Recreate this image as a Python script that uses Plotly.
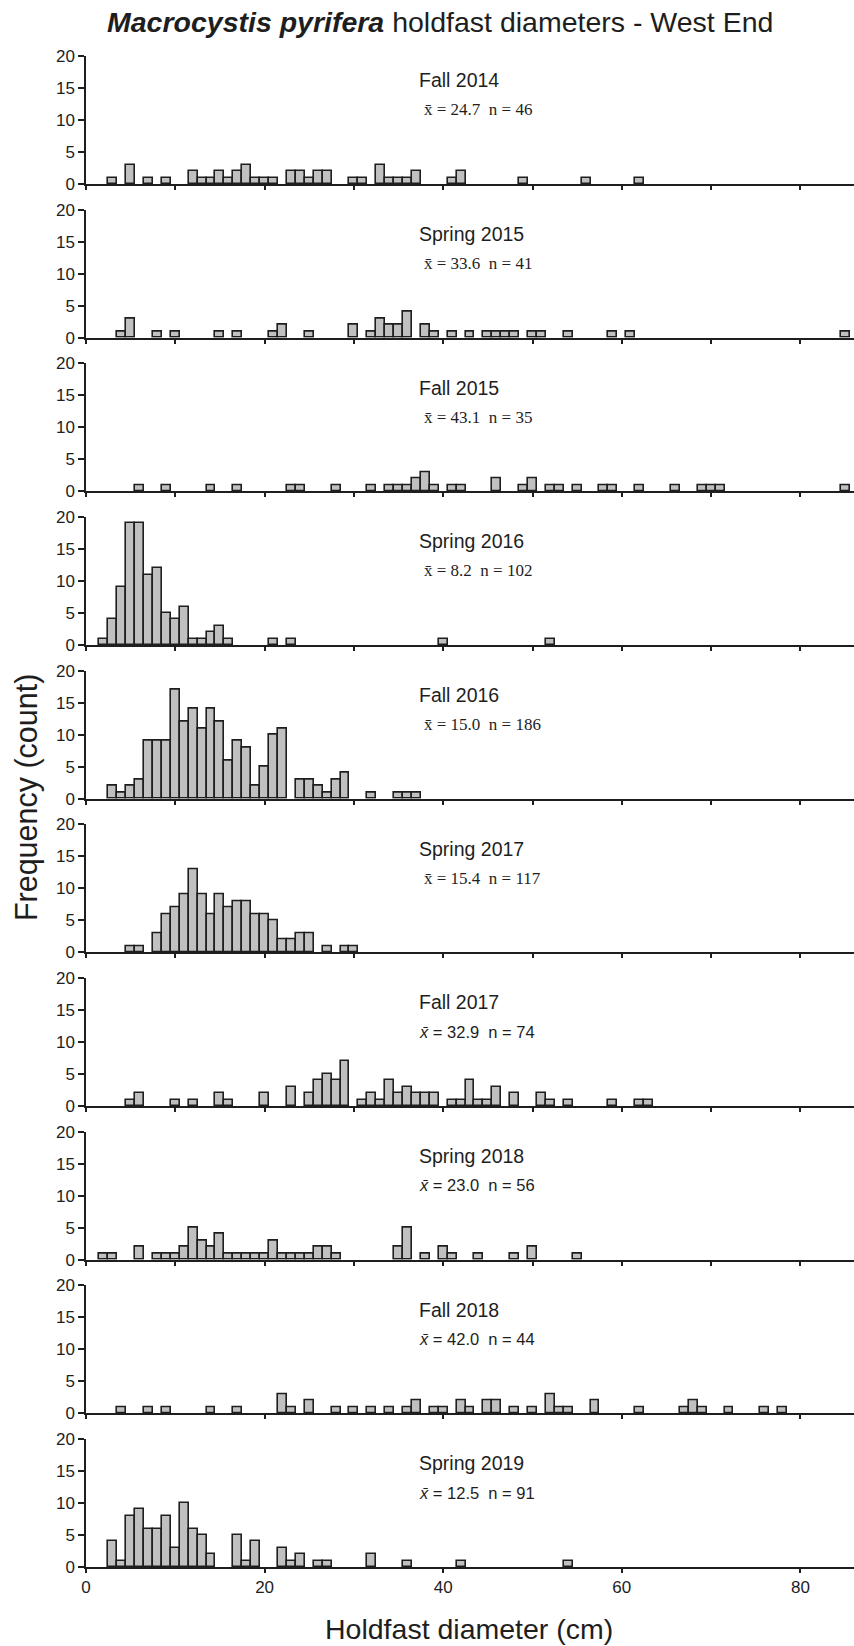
import plotly.graph_objects as go

# Holdfast diameter histograms (1 cm bins) for each survey season
season_names = ["Fall 2014", "Spring 2015", "Fall 2015", "Spring 2016", "Fall 2016",
                "Spring 2017", "Fall 2017", "Spring 2018", "Fall 2018", "Spring 2019"]
season_means = ["24.7", "33.6", "43.1", "8.2", "15.0", "15.4", "32.9", "23.0", "42.0", "12.5"]
season_n = [46, 41, 35, 102, 186, 117, 74, 56, 44, 91]

fall2014_bins = [3, 5, 7, 9, 12, 13, 14, 15, 16, 17, 18, 19, 20, 21, 23, 24, 25, 26, 27, 30,
                 31, 33, 34, 35, 36, 37, 41, 42, 49, 56, 62]
fall2014_counts = [1, 3, 1, 1, 2, 1, 1, 2, 1, 2, 3, 1, 1, 1, 2, 2, 1, 2, 2, 1,
                   1, 3, 1, 1, 1, 2, 1, 2, 1, 1, 1]

spring2015_bins = [4, 5, 8, 10, 15, 17, 21, 22, 25, 30, 32, 33, 34, 35, 36, 38, 39, 41, 43, 45,
                   46, 47, 48, 50, 51, 54, 59, 61, 85]
spring2015_counts = [1, 3, 1, 1, 1, 1, 1, 2, 1, 2, 1, 3, 2, 2, 4, 2, 1, 1, 1, 1,
                     1, 1, 1, 1, 1, 1, 1, 1, 1]

fall2015_bins = [6, 9, 14, 17, 23, 24, 28, 32, 34, 35, 36, 37, 38, 39, 41, 42, 46, 49, 50, 52,
                 53, 55, 58, 59, 62, 66, 69, 70, 71, 85]
fall2015_counts = [1, 1, 1, 1, 1, 1, 1, 1, 1, 1, 1, 2, 3, 1, 1, 1, 2, 1, 2, 1,
                   1, 1, 1, 1, 1, 1, 1, 1, 1, 1]

spring2016_bins = [2, 3, 4, 5, 6, 7, 8, 9, 10, 11, 12, 13, 14, 15, 16, 21, 23, 40, 52]
spring2016_counts = [1, 4, 9, 19, 19, 11, 12, 5, 4, 6, 1, 1, 2, 3, 1, 1, 1, 1, 1]

fall2016_bins = [3, 4, 5, 6, 7, 8, 9, 10, 11, 12, 13, 14, 15, 16, 17, 18, 19, 20, 21, 22,
                 24, 25, 26, 27, 28, 29, 32, 35, 36, 37]
fall2016_counts = [2, 1, 2, 3, 9, 9, 9, 17, 12, 14, 11, 14, 12, 6, 9, 8, 2, 5, 10, 11,
                   3, 3, 2, 1, 3, 4, 1, 1, 1, 1]

spring2017_bins = [5, 6, 8, 9, 10, 11, 12, 13, 14, 15, 16, 17, 18, 19, 20, 21, 22, 23, 24, 25,
                   27, 29, 30]
spring2017_counts = [1, 1, 3, 6, 7, 9, 13, 9, 6, 9, 7, 8, 8, 6, 6, 5, 2, 2, 3, 3,
                     1, 1, 1]

fall2017_bins = [5, 6, 10, 12, 15, 16, 20, 23, 25, 26, 27, 28, 29, 31, 32, 33, 34, 35, 36, 37,
                 38, 39, 41, 42, 43, 44, 45, 46, 48, 51, 52, 54, 59, 62, 63]
fall2017_counts = [1, 2, 1, 1, 2, 1, 2, 3, 2, 4, 5, 4, 7, 1, 2, 1, 4, 2, 3, 2,
                   2, 2, 1, 1, 4, 1, 1, 3, 2, 2, 1, 1, 1, 1, 1]

spring2018_bins = [2, 3, 6, 8, 9, 10, 11, 12, 13, 14, 15, 16, 17, 18, 19, 20, 21, 22, 23, 24,
                   25, 26, 27, 28, 35, 36, 38, 40, 41, 44, 48, 50, 55]
spring2018_counts = [1, 1, 2, 1, 1, 1, 2, 5, 3, 2, 4, 1, 1, 1, 1, 1, 3, 1, 1, 1,
                     1, 2, 2, 1, 2, 5, 1, 2, 1, 1, 1, 2, 1]

fall2018_bins = [4, 7, 9, 14, 17, 22, 23, 25, 28, 30, 32, 34, 36, 37, 39, 40, 42, 43, 45, 46,
                 48, 50, 52, 53, 54, 57, 62, 67, 68, 69, 72, 76, 78]
fall2018_counts = [1, 1, 1, 1, 1, 3, 1, 2, 1, 1, 1, 1, 1, 2, 1, 1, 2, 1, 2, 2,
                   1, 1, 3, 1, 1, 2, 1, 1, 2, 1, 1, 1, 1]

spring2019_bins = [3, 4, 5, 6, 7, 8, 9, 10, 11, 12, 13, 14, 17, 18, 19, 22, 23, 24, 26, 27,
                   32, 36, 42, 54]
spring2019_counts = [4, 1, 8, 9, 6, 6, 8, 3, 10, 6, 5, 2, 5, 1, 4, 3, 1, 2, 1, 1,
                     2, 1, 1, 1]

season_bins = [fall2014_bins, spring2015_bins, fall2015_bins, spring2016_bins, fall2016_bins,
               spring2017_bins, fall2017_bins, spring2018_bins, fall2018_bins, spring2019_bins]
season_counts = [fall2014_counts, spring2015_counts, fall2015_counts, spring2016_counts,
                 fall2016_counts, spring2017_counts, fall2017_counts, spring2018_counts,
                 fall2018_counts, spring2019_counts]

y_ticks = [0, 5, 10, 15, 20]
x_tick_labels = [0, 20, 40, 60, 80]

# ---- page geometry (pixels) ----
W, H = 854, 1646
M_L, M_R, M_T, M_B = 86, 0, 55.5, 78.7
PLOT_H = H - M_T - M_B
PANEL_H = 128.0
PANEL_STEP = 153.75

SANS = "Liberation Sans, Arial, sans-serif"
SERIF = "Liberation Serif, Times New Roman, serif"
INK = "#1e1e1e"

fig = go.Figure()
n_panels = len(season_names)

for k in range(n_panels):
    idx = "" if k == 0 else str(k + 1)
    xa, ya = "x" + idx, "y" + idx
    fig.add_trace(go.Bar(
        x=season_bins[k], y=season_counts[k], width=1.0,
        marker=dict(color="#c0c0c0", line=dict(color=INK, width=1.6)),
        xaxis=xa, yaxis=ya, showlegend=False,
    ))

    top_px = M_T + PANEL_STEP * k
    bot_px = top_px + PANEL_H
    dom = [1 - (bot_px - M_T) / PLOT_H, 1 - (top_px - M_T) / PLOT_H]
    last = k >= n_panels - 2
    bottom = k == n_panels - 1

    fig.layout["xaxis" + idx] = dict(
        domain=[0, 1], anchor=ya, range=[0, 86],
        showline=True, linecolor=INK, linewidth=2,
        ticks="outside", ticklen=4, tickwidth=1.5, tickcolor=INK,
        tickmode="array",
        tickvals=x_tick_labels if last else list(range(0, 90, 10)),
        ticktext=[str(v) for v in x_tick_labels] if last else None,
        showticklabels=bottom,
        tickfont=dict(family=SANS, size=17, color=INK),
        showgrid=False, zeroline=False,
    )
    fig.layout["yaxis" + idx] = dict(
        domain=dom, anchor=xa, range=[0, 20],
        showline=True, linecolor=INK, linewidth=1.5,
        ticks="outside", ticklen=6, tickwidth=1.5, tickcolor=INK,
        tickmode="array", tickvals=y_ticks,
        tickfont=dict(family=SANS, size=17, color=INK),
        showgrid=False, zeroline=False,
    )

    fig.add_annotation(
        x=37.1, y=16.2, xref=xa, yref=ya, xanchor="left", yanchor="middle",
        text=season_names[k], showarrow=False,
        font=dict(family=SANS, size=19.5, color=INK),
    )
    if k < 6:
        stat = f"x\u0304 = {season_means[k]}  n = {season_n[k]}"
        fig.add_annotation(
            x=37.6, y=11.6, xref=xa, yref=ya, xanchor="left", yanchor="middle",
            text=stat, showarrow=False,
            font=dict(family=SERIF, size=17, color=INK),
        )
    else:
        stat = f"<i>x\u0304</i> = {season_means[k]}  n = {season_n[k]}"
        fig.add_annotation(
            x=37.1, y=11.6, xref=xa, yref=ya, xanchor="left", yanchor="middle",
            text=stat, showarrow=False,
            font=dict(family=SANS, size=16.5, color=INK),
        )

# title and axis titles
fig.add_annotation(
    xref="paper", yref="paper", x=(440 - M_L) / (W - M_L - M_R),
    y=1 + (M_T - 21) / PLOT_H, xanchor="center", yanchor="middle",
    text="<b><i>Macrocystis pyrifera</i></b> holdfast diameters - West End",
    showarrow=False, font=dict(family=SANS, size=28.5, color=INK),
)
fig.add_annotation(
    xref="paper", yref="paper", x=(469 - M_L) / (W - M_L - M_R),
    y=-(1629 - (H - M_B)) / PLOT_H, xanchor="center", yanchor="middle",
    text="Holdfast diameter (cm)", showarrow=False,
    font=dict(family=SANS, size=28.5, color=INK),
)
fig.add_annotation(
    xref="paper", yref="paper", x=(26 - M_L) / (W - M_L - M_R),
    y=1 - (797 - M_T) / PLOT_H, xanchor="center", yanchor="middle",
    text="Frequency (count)", textangle=-90, showarrow=False,
    font=dict(family=SANS, size=30.5, color=INK),
)

fig.update_layout(
    width=W, height=H,
    margin=dict(l=M_L, r=M_R, t=M_T, b=M_B),
    paper_bgcolor="white", plot_bgcolor="white",
    bargap=0, showlegend=False,
)

fig.write_html("out.html")
